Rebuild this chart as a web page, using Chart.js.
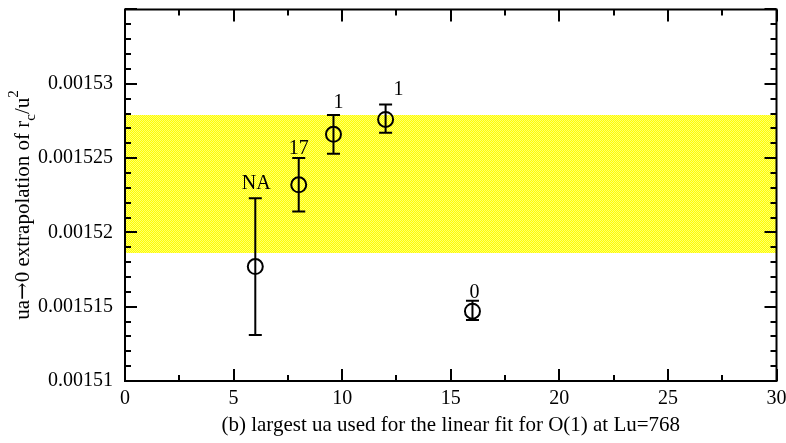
<!DOCTYPE html>
<html>
<head>
<meta charset="utf-8">
<script src="https://cdn.jsdelivr.net/npm/chart.js@4.4.1/dist/chart.umd.min.js"></script>
<style>
html,body{margin:0;padding:0;background:#fff;}
#wrap{width:786px;height:443px;position:relative;}
</style>
</head>
<body>
<div id="wrap"><canvas id="c"></canvas></div>
<script>
// ---- data ----
const xValues   = [6, 8, 9.6, 12, 16];
const yValues   = [0.0015177, 0.0015232, 0.0015266, 0.0015276, 0.0015147];
const yErrHigh  = [0.0015223, 0.0015250, 0.0015279, 0.0015286, 0.0015154];
const yErrLow   = [0.0015131, 0.0015214, 0.0015253, 0.0015267, 0.0015141];
const pointLabels = ['NA', '17', '1', '1', '0'];
const bandRange = [0.0015186, 0.0015279];
const xTicks = [0, 5, 10, 15, 20, 25, 30];
const xTickLabels = ['0', '5', '10', '15', '20', '25', '30'];
const yTicks = [0.00151, 0.001515, 0.00152, 0.001525, 0.00153];
const yTickLabels = ['0.00151', '0.001515', '0.00152', '0.001525', '0.00153'];
const xTitle = '(b) largest ua used for the linear fit for O(1) at Lu=768';

const FONT = '"Liberation Serif", "DejaVu Serif", serif';

// yellow dithered pattern for the band
function makePattern(ctx){
  const p = document.createElement('canvas');
  p.width = 2; p.height = 2;
  const g = p.getContext('2d');
  g.fillStyle = '#ffff00'; g.fillRect(0,0,2,2);
  g.fillStyle = '#ffff70'; g.fillRect(0,0,1,1); g.fillRect(1,1,1,1);
  return ctx.createPattern(p, 'repeat');
}

const decorPlugin = {
  id: 'decor',
  beforeDatasetsDraw(chart){
    const {ctx, chartArea:a, scales:{x, y}} = chart;
    ctx.save();
    ctx.beginPath(); ctx.rect(a.left, a.top, a.right-a.left, a.bottom-a.top); ctx.clip();
    const yTop = Math.round(y.getPixelForValue(bandRange[1]));
    const yBot = Math.round(y.getPixelForValue(bandRange[0]));
    ctx.fillStyle = makePattern(ctx);
    ctx.fillRect(a.left, yTop, a.right-a.left, yBot-yTop);
    ctx.restore();
  },
  afterDatasetsDraw(chart){
    const {ctx, chartArea:a, scales:{x, y}} = chart;
    ctx.save();
    // error bars
    ctx.strokeStyle = '#000'; ctx.lineWidth = 2;
    const cap = 6.5;
    for (let i = 0; i < xValues.length; i++){
      const px = x.getPixelForValue(xValues[i]);
      const ph = y.getPixelForValue(yErrHigh[i]);
      const pl = y.getPixelForValue(yErrLow[i]);
      ctx.beginPath();
      ctx.moveTo(px, ph); ctx.lineTo(px, pl);
      ctx.moveTo(px-cap, ph); ctx.lineTo(px+cap, ph);
      ctx.moveTo(px-cap, pl); ctx.lineTo(px+cap, pl);
      ctx.stroke();
    }
    // point labels
    const offs = [[1,-9],[0,-4],[5,-7],[13,-10],[2,-3]];
    ctx.fillStyle = '#000';
    ctx.font = '20px ' + FONT;
    ctx.textAlign = 'center'; ctx.textBaseline = 'alphabetic';
    for (let i = 0; i < xValues.length; i++){
      const px = x.getPixelForValue(xValues[i]);
      const ph = y.getPixelForValue(yErrHigh[i]);
      ctx.fillText(pointLabels[i], px + offs[i][0], ph + offs[i][1]);
    }
    // frame
    ctx.lineWidth = 2;
    ctx.strokeRect(a.left, a.top, a.right-a.left, a.bottom-a.top);
    // ticks inward
    ctx.beginPath();
    const majL = 12, minL = 6;
    for (let v = 0; v <= 30.001; v += 2.5){
      const px = Math.round(x.getPixelForValue(v));
      const L = (Math.abs(v/5 - Math.round(v/5)) < 1e-6) ? majL : minL;
      ctx.moveTo(px, a.bottom); ctx.lineTo(px, a.bottom - L);
      ctx.moveTo(px, a.top); ctx.lineTo(px, a.top + L);
    }
    for (let k = 0; k <= 25; k++){
      const v = 0.00151 + k*0.000001;
      const py = Math.round(y.getPixelForValue(v));
      const L = (k % 5 === 0) ? majL : minL;
      ctx.moveTo(a.left, py); ctx.lineTo(a.left + L, py);
      ctx.moveTo(a.right, py); ctx.lineTo(a.right - L, py);
    }
    ctx.stroke();
    // y-axis title with subscript / superscript
    const parts = [
      {t:'ua', s:21, dy:0, f:FONT},
      {t:'\u2192', s:21, dy:0, f:'"DejaVu Serif", serif'},
      {t:'0 extrapolation of r', s:21, dy:0, f:FONT},
      {t:'c', s:15, dy:6, f:FONT},
      {t:'/u', s:21, dy:0, f:FONT},
      {t:'2', s:15, dy:-11, f:FONT}
    ];
    let total = 0;
    parts.forEach(p => { ctx.font = p.s + 'px ' + p.f; p.w = ctx.measureText(p.t).width; total += p.w; });
    ctx.translate(29, 205);
    ctx.rotate(-Math.PI/2);
    ctx.textAlign = 'left';
    let cx = -total/2;
    parts.forEach(p => { ctx.font = p.s + 'px ' + p.f; ctx.fillText(p.t, cx, p.dy); cx += p.w; });
    ctx.restore();
  }
};

new Chart(document.getElementById('c'), {
  type: 'scatter',
  data: {
    datasets: [{
      data: xValues.map((v, i) => ({x: v, y: yValues[i]})),
      pointStyle: 'circle',
      pointRadius: 7.5,
      pointHoverRadius: 7.5,
      pointBorderWidth: 2,
      pointBorderColor: '#000',
      pointBackgroundColor: 'rgba(0,0,0,0)',
      showLine: false
    }]
  },
  options: {
    responsive: true,
    maintainAspectRatio: false,
    animation: false,
    events: [],
    layout: {padding: {top: 6, right: 6, left: 0, bottom: 0}},
    plugins: {legend: {display: false}, tooltip: {enabled: false}},
    scales: {
      x: {
        type: 'linear', min: 0, max: 30,
        grid: {display: false, drawTicks: false},
        border: {display: false},
        afterBuildTicks: s => { s.ticks = xTicks.map(v => ({value: v})); },
        afterFit: s => { s.height = 62; s.paddingLeft = 0; s.paddingRight = 0; },
        ticks: {
          color: '#000', padding: 6, maxRotation: 0,
          font: {family: FONT, size: 20},
          callback: (v, i) => xTickLabels[i]
        },
        title: {display: true, text: xTitle, color: '#000', font: {family: FONT, size: 21}, padding: {top: 0, bottom: 5}}
      },
      y: {
        type: 'linear', min: 0.00151, max: 0.001535,
        grid: {display: false, drawTicks: false},
        border: {display: false},
        afterBuildTicks: s => { s.ticks = yTicks.map(v => ({value: v})); },
        afterFit: s => { s.width = 125; s.paddingTop = 0; s.paddingBottom = 0; },
        ticks: {
          color: '#000', padding: 12,
          font: {family: FONT, size: 20},
          callback: (v, i) => yTickLabels[i]
        }
      }
    }
  },
  plugins: [decorPlugin]
});
</script>
</body>
</html>
